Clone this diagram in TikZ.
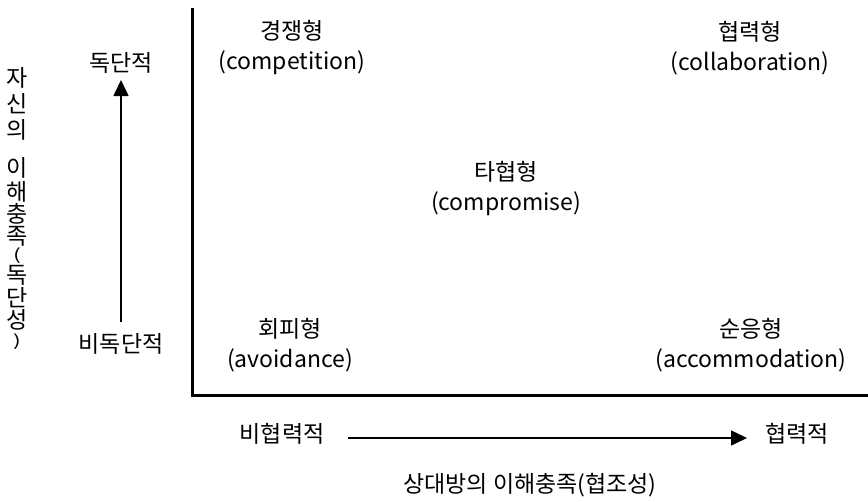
\documentclass[tikz,border=0pt]{standalone}
\usepackage{fontspec}
\setmainfont{Noto Sans CJK KR}
\usetikzlibrary{arrows.meta}
\newcommand{\shortparen}[1]{\scalebox{1}[0.68]{#1}}
\begin{document}
\begin{tikzpicture}[x=1pt,y=-1pt,
  lbl/.style={font=\fontsize{23}{30}\selectfont, align=center, inner sep=0pt},
  ax/.style={line width=3.5pt},
  arr/.style={line width=1.6pt, -{Triangle[length=16pt,width=15pt]}}]
\useasboundingbox (0,0) rectangle (868,501);
% axes
\coordinate (top) at (192.5,8);
\coordinate (origin) at (192.5,395.5);
\coordinate (right) at (868,395.5);
\draw[ax] (top) -- (origin) -- (right);
% quadrant labels
\node[lbl] (comp) at (292,48) {경쟁형\\(competition)};
\node[lbl] (coll) at (750,48) {협력형\\(collaboration)};
\node[lbl] (compr) at (506,189) {타협형\\(compromise)};
\node[lbl] (avoid) at (290,345) {회피형\\(avoidance)};
\node[lbl] (acc) at (751,345) {순응형\\(accommodation)};
% vertical axis arrow
\node[lbl] (dok) at (121,63) {독단적};
\node[lbl] (bidok) at (121,344) {비독단적};
\coordinate (vstart) at (121,322);
\coordinate (vend) at (121,80);
\draw[arr] (vstart) -- (vend);
% horizontal axis arrow
\node[lbl] (bihyp) at (282,434) {비협력적};
\node[lbl] (hyp) at (797,434) {협력적};
\coordinate (hstart) at (348,438);
\coordinate (hend) at (747,438);
\draw[arr] (hstart) -- (hend);
% axis titles
\node[lbl] (xtitle) at (530,485) {상대방의 이해충족(협조성)};
\foreach \ch/\yy [count=\i] in {{자}/78,{신}/104,{의}/130,{이}/168,{해}/192,{충}/214,{족}/236,{\shortparen{(}}/256,{독}/275,{단}/298,{성}/320,{\shortparen{)}}/342}
  \node[lbl] (v\i) at (17,\yy) {\ch};
\end{tikzpicture}
\end{document}
